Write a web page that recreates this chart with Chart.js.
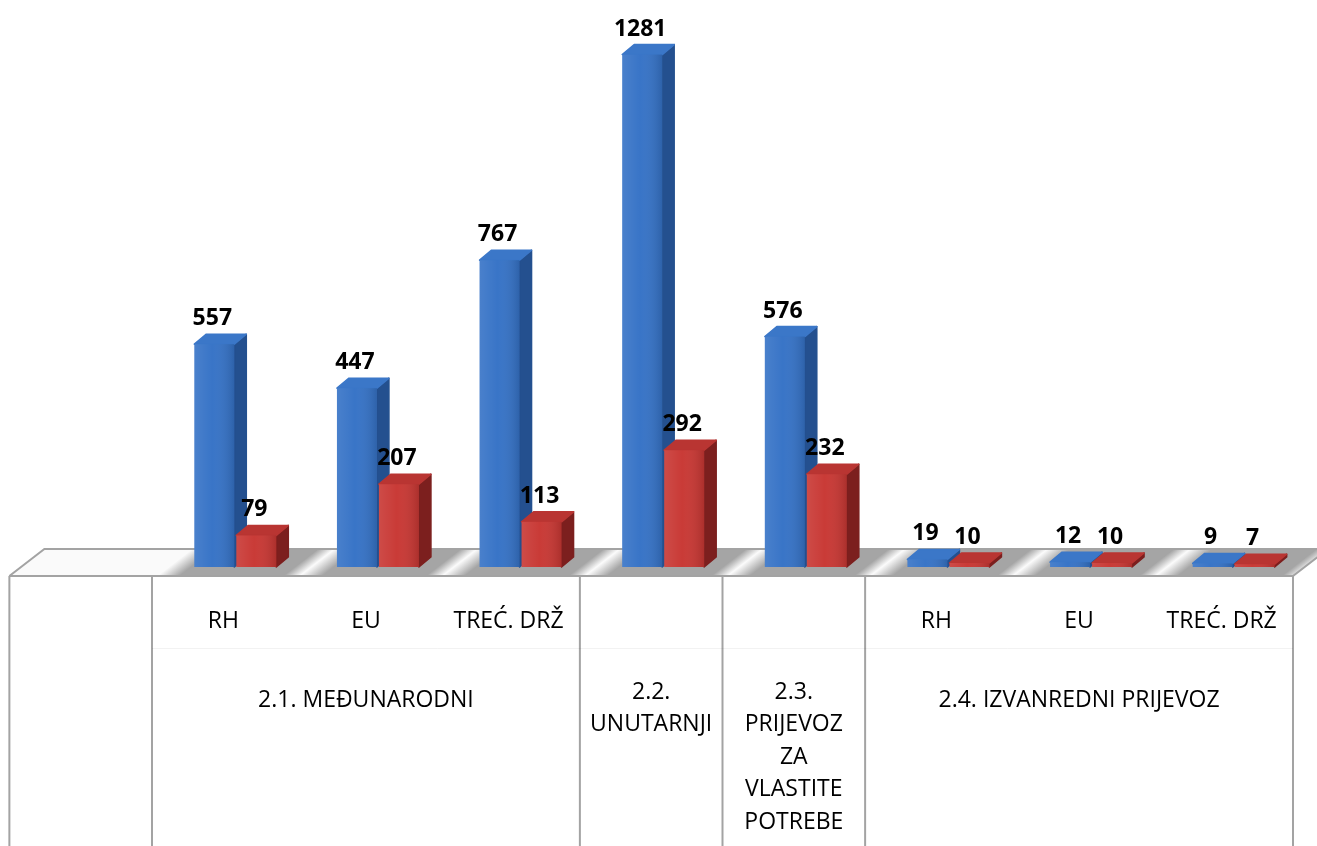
<!DOCTYPE html>
<html>
<head>
<meta charset="utf-8">
<script src="https://cdn.jsdelivr.net/npm/chart.js@4/dist/chart.umd.min.js"></script>
<style>
    html, body { margin: 0; padding: 0; background: #fff; }
</style>
</head>
<body>
<canvas id="chart" width="1317" height="846"></canvas>
<script>
// Data
const subLabels = ['RH', 'EU', 'TREĆ. DRŽ', '', '', 'RH', 'EU', 'TREĆ. DRŽ'];
const groupNames = [
    ['2.1. MEĐUNARODNI'],
    ['2.2.', 'UNUTARNJI'],
    ['2.3.', 'PRIJEVOZ', 'ZA', 'VLASTITE', 'POTREBE'],
    ['2.4. IZVANREDNI PRIJEVOZ']
];
const groupSpans = [3, 1, 1, 3];
const blueValues = [557, 447, 767, 1281, 576, 19, 12, 9];
const redValues = [79, 207, 113, 292, 232, 10, 10, 7];

// 3D look
const DX = 12, DY = 10;            // bar depth
const FLOOR_DX = 35, FLOOR_DY = 27; // floor depth
const SHIFT = 12;                   // front of floor vs bar plane
const FONT = '"Open Sans", sans-serif';

const faces = [
    { side: '#24508f', top: '#3b77c8' },
    { side: '#7c1f1e', top: '#b93532' }
];

function geometry(chart) {
    const x = chart.scales.x;
    const n = subLabels.length;
    const catW = x.getPixelForValue(1) - x.getPixelForValue(0);
    const base = chart.scales.y.getPixelForValue(0);
    const firstLeft = x.getPixelForValue(0) - catW / 2 - SHIFT;
    return {
        x, n, catW, base,
        firstLeft,
        tableLeft: firstLeft - catW,
        tableRight: x.getPixelForValue(n - 1) + catW / 2 - SHIFT,
        front: base + 9,
        back: base + 9 - FLOOR_DY
    };
}

function drawFloor(chart, g) {
    const ctx = chart.ctx;
    const blue = chart.getDatasetMeta(0).data;
    const red = chart.getDatasetMeta(1).data;

    ctx.save();
    ctx.beginPath();
    ctx.moveTo(g.tableLeft, g.front);
    ctx.lineTo(g.tableLeft + FLOOR_DX, g.back);
    ctx.lineTo(g.tableRight + FLOOR_DX, g.back);
    ctx.lineTo(g.tableRight, g.front);
    ctx.closePath();
    ctx.fillStyle = '#fafafa';
    ctx.fill();
    ctx.clip();

    // soft shadows round each pair of bars, slanted with the floor
    for (let i = 0; i < g.n; i++) {
        const L = blue[i].x - blue[i].width / 2;
        const R = red[i].x + red[i].width / 2 + DX;
        for (let y = Math.floor(g.back); y < g.front; y++) {
            const off = (g.base - y) * FLOOR_DX / FLOOR_DY;
            const a = L + off - 26, b = R + off + 22;
            const w = b - a;
            const grad = ctx.createLinearGradient(a, 0, b, 0);
            grad.addColorStop(0, 'rgba(165,165,165,0)');
            grad.addColorStop(22 / w, 'rgba(165,165,165,1)');
            grad.addColorStop(1 - 16 / w, 'rgba(165,165,165,1)');
            grad.addColorStop(1, 'rgba(165,165,165,0)');
            ctx.fillStyle = grad;
            ctx.fillRect(a, y, w, 1);
        }
    }
    ctx.restore();

    ctx.save();
    ctx.strokeStyle = '#a3a3a3';
    ctx.lineWidth = 2;
    ctx.beginPath();
    ctx.moveTo(g.tableLeft, g.front);
    ctx.lineTo(g.tableLeft + FLOOR_DX, g.back);
    ctx.lineTo(g.tableRight + FLOOR_DX, g.back);
    ctx.moveTo(g.tableRight + FLOOR_DX, g.back);
    ctx.lineTo(g.tableRight, g.front);
    ctx.stroke();
    ctx.restore();
}

function drawFaces(ctx, meta, f) {
    ctx.save();
    ctx.lineJoin = 'round';
    ctx.lineWidth = 1.5;
    meta.data.forEach(el => {
        const r = el.x + el.width / 2, l = el.x - el.width / 2;
        const t = el.y, b = el.base;
        // side
        ctx.beginPath();
        ctx.moveTo(r, b);
        ctx.lineTo(r, t);
        ctx.lineTo(r + DX, t - DY);
        ctx.lineTo(r + DX, b - DY);
        ctx.closePath();
        ctx.fillStyle = f.side;
        ctx.strokeStyle = f.side;
        ctx.fill();
        ctx.stroke();
        // top
        ctx.beginPath();
        ctx.moveTo(l, t);
        ctx.lineTo(l + DX, t - DY);
        ctx.lineTo(r + DX, t - DY);
        ctx.lineTo(r, t);
        ctx.closePath();
        ctx.fillStyle = f.top;
        ctx.strokeStyle = f.top;
        ctx.fill();
        ctx.stroke();
    });
    ctx.restore();
}

const bars3dPlugin = {
    id: 'bars3d',
    beforeDatasetsDraw(chart) {
        const g = geometry(chart);
        drawFloor(chart, g);
        // blue faces first so the red fronts cover them
        faces.forEach((f, di) => drawFaces(chart.ctx, chart.getDatasetMeta(di), f));
    },
    afterDatasetDraw(chart, args) {
        const ctx = chart.ctx;
        ctx.save();
        args.meta.data.forEach(el => {
            const l = el.x - el.width / 2;
            const grad = ctx.createLinearGradient(l, 0, l + el.width, 0);
            grad.addColorStop(0, 'rgba(255,255,255,0.10)');
            grad.addColorStop(0.45, 'rgba(255,255,255,0.02)');
            grad.addColorStop(1, 'rgba(0,0,0,0.14)');
            ctx.fillStyle = grad;
            ctx.fillRect(l, el.y, el.width, el.base - el.y);
        });
        ctx.restore();
    },
    afterDatasetsDraw(chart) {
        const ctx = chart.ctx;
        ctx.save();
        ctx.font = 'bold 23px ' + FONT;
        ctx.fillStyle = '#000';
        ctx.textAlign = 'center';
        ctx.textBaseline = 'alphabetic';
        chart.data.datasets.forEach((ds, di) => {
            chart.getDatasetMeta(di).data.forEach((el, i) => {
                ctx.fillText(String(ds.data[i]), el.x - 2, el.y - 19);
            });
        });
        ctx.restore();
    },
    afterDraw(chart) {
        const ctx = chart.ctx;
        const g = geometry(chart);
        const bottom = chart.height;
        ctx.save();
        // cell borders
        ctx.strokeStyle = '#a3a3a3';
        ctx.lineWidth = 2;
        const xs = [g.tableLeft, g.firstLeft];
        let k = 0;
        groupSpans.forEach(s => { k += s; xs.push(g.firstLeft + k * g.catW); });
        ctx.beginPath();
        xs.forEach(x => { ctx.moveTo(x, g.front); ctx.lineTo(x, bottom); });
        ctx.moveTo(g.tableLeft, g.front);
        ctx.lineTo(g.tableRight, g.front);
        ctx.stroke();
        ctx.strokeStyle = 'rgba(0,0,0,0.05)';
        ctx.lineWidth = 1;
        ctx.beginPath();
        ctx.moveTo(g.firstLeft, 648.5);
        ctx.lineTo(g.tableRight, 648.5);
        ctx.stroke();

        // labels
        ctx.fillStyle = '#000';
        ctx.font = '23px ' + FONT;
        ctx.textAlign = 'center';
        ctx.textBaseline = 'middle';
        subLabels.forEach((lab, i) => {
            if (lab) ctx.fillText(lab, g.x.getPixelForValue(i) - SHIFT, 621);
        });
        let start = 0;
        groupNames.forEach((lines, gi) => {
            const cx = g.firstLeft + (start + groupSpans[gi] / 2) * g.catW;
            const y0 = lines.length === 1 ? 700 : 692;
            lines.forEach((t, li) => ctx.fillText(t, cx, y0 + li * 32.5));
            start += groupSpans[gi];
        });
        ctx.restore();
    }
};

new Chart(document.getElementById('chart'), {
    type: 'bar',
    data: {
        labels: subLabels,
        datasets: [
            { data: blueValues, backgroundColor: '#3572c6' },
            { data: redValues, backgroundColor: '#c83733' }
        ]
    },
    options: {
        responsive: false,
        animation: false,
        layout: { padding: { left: 164, right: 12, top: 7, bottom: 279 } },
        datasets: { bar: { categoryPercentage: 0.589, barPercentage: 0.952 } },
        plugins: { legend: { display: false }, tooltip: { enabled: false } },
        scales: {
            x: { display: false },
            y: { display: false, min: 0, max: 1400 }
        }
    },
    plugins: [bars3dPlugin]
});
</script>
</body>
</html>
